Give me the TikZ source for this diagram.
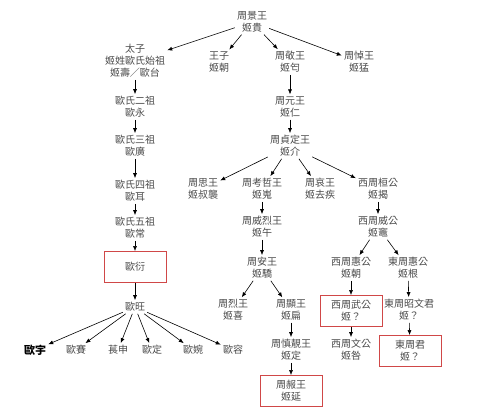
\documentclass[tikz,border=0pt]{standalone}
\usepackage{fontspec}
\setmainfont{Noto Sans CJK TC}
\usetikzlibrary{arrows.meta}
\definecolor{txt}{HTML}{4A4A4A}
\definecolor{boxred}{HTML}{D04848}
\tikzset{
  person/.style={align=center, text=txt, inner sep=2pt,
    font=\fontsize{10}{12}\selectfont},
  marked/.style={person, draw=boxred, line width=0.8pt, inner sep=0pt,
    minimum width=62pt, minimum height=31pt},
  link/.style={-{Latex[length=5pt,width=4pt]}, line width=0.6pt, black},
}
\begin{document}
\begin{tikzpicture}[x=1pt,y=-1pt]
\useasboundingbox (0,0) rectangle (480,418);
\node[person] (root) at (252,22) {周景王\\姬貴};
\node[person] (taizi) at (135,61) {太子\\姬姓歐氏始祖\\姬壽／歐台};
\node[person] (wangzi) at (219,62) {王子\\姬朝};
\node[person] (jing) at (290,62) {周敬王\\姬匄};
\node[person] (dao) at (359,62) {周悼王\\姬猛};
\node[person] (ou2) at (135,107) {歐氏二祖\\歐永};
\node[person] (ou3) at (135,146) {歐氏三祖\\歐廣};
\node[person] (ou4) at (135,191) {歐氏四祖\\歐耳};
\node[person] (ou5) at (135,228) {歐氏五祖\\歐常};
\node[marked] (ouyan) at (135,267) {歐衍};
\node[person] (ouwang) at (135,307) {歐旺};
\node[person, text=black, font=\fontsize{11}{12}\selectfont\bfseries] (ouyu) at (35,350) {歐宇};
\node[person] (ousai) at (76,350) {歐賽};
\node[person] (changshen) at (118,350) {萇申};
\node[person] (ouding) at (152,350) {歐定};
\node[person] (ouwan) at (193,350) {歐婉};
\node[person] (ourong) at (233,350) {歐容};
\node[person] (yuan) at (290,107) {周元王\\姬仁};
\node[person] (zhending) at (290,146) {周貞定王\\姬介};
\node[person] (si) at (203,189) {周思王\\姬叔襲};
\node[person] (kaozhe) at (262,189) {周考哲王\\姬嵬};
\node[person] (ai) at (320,189) {周哀王\\姬去疾};
\node[person] (huan) at (378,189) {西周桓公\\姬揭};
\node[person] (weilie) at (262,227) {周威烈王\\姬午};
\node[person] (xiwei) at (378,227) {西周威公\\姬竈};
\node[person] (an) at (262,268) {周安王\\姬驕};
\node[person] (xihui) at (351,268) {西周惠公\\姬朝};
\node[person] (donghui) at (408,268) {東周惠公\\姬根};
\node[person] (lie) at (233,310) {周烈王\\姬喜};
\node[person] (xian) at (291,310) {周顯王\\姬扁};
\node[marked] (xiwu) at (351,311) {西周武公\\姬？};
\node[person] (zhaowen) at (409,310) {東周昭文君\\姬？};
\node[person] (shenjing) at (291,350) {周慎靚王\\姬定};
\node[person] (xiwen) at (351,350) {西周文公\\姬咎};
\node[marked] (dongjun) at (410,351) {東周君\\姬？};
\node[marked] (nan) at (291,391) {周赧王\\姬延};
\foreach \a/\b in {root/taizi, root/wangzi, root/jing, root/dao,
  taizi/ou2, ou2/ou3, ou3/ou4, ou4/ou5, ou5/ouyan, ouyan/ouwang,
  ouwang/ouyu, ouwang/ousai, ouwang/changshen, ouwang/ouding, ouwang/ouwan, ouwang/ourong,
  jing/yuan, yuan/zhending,
  zhending/si, zhending/kaozhe, zhending/ai, zhending/huan,
  kaozhe/weilie, huan/xiwei, weilie/an, xiwei/xihui, xiwei/donghui,
  an/lie, an/xian, xihui/xiwu, donghui/zhaowen,
  xian/shenjing, xiwu/xiwen, zhaowen/dongjun, shenjing/nan}
  \draw[link] (\a) -- (\b);
\end{tikzpicture}
\end{document}
